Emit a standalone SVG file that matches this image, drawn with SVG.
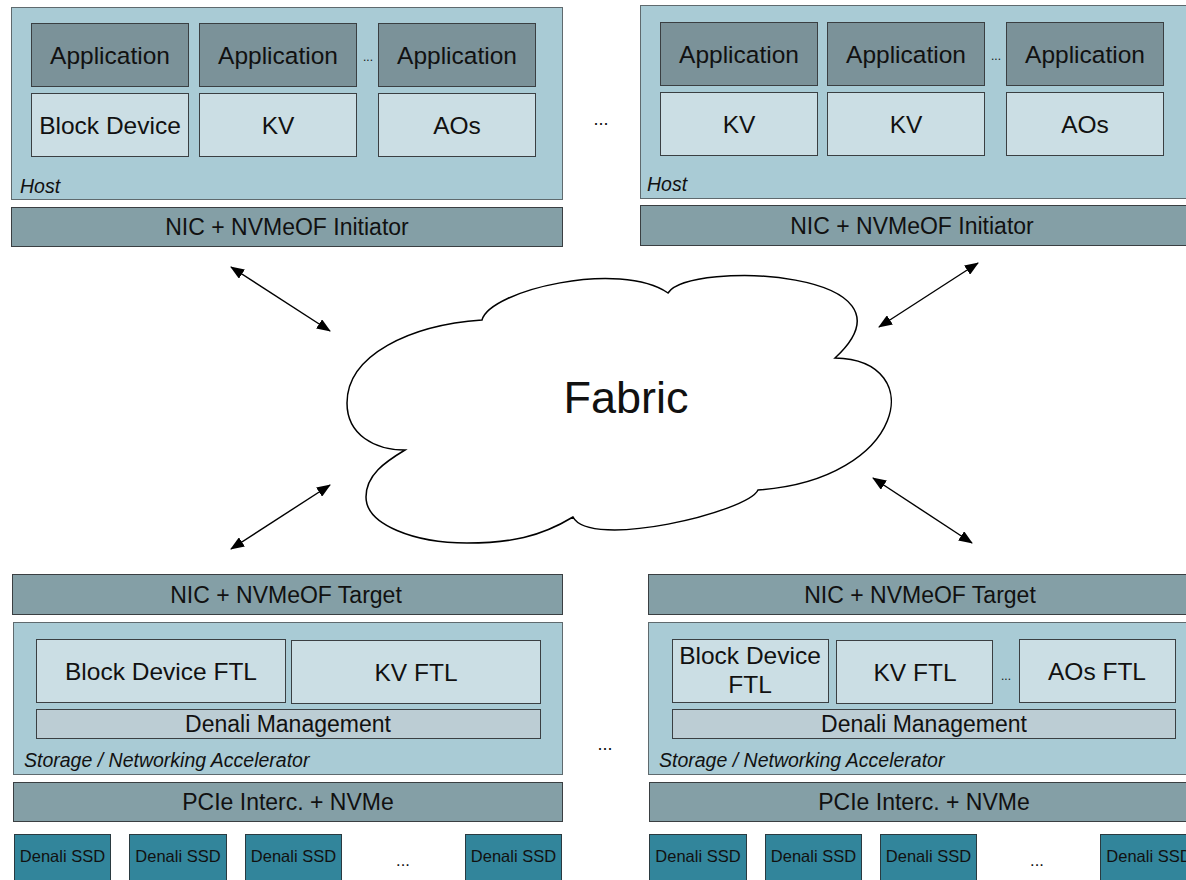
<svg xmlns="http://www.w3.org/2000/svg" width="1186" height="880" viewBox="0 0 1186 880">
<defs>
<style>
text{font-family:"Liberation Sans",Arial,Helvetica,sans-serif;fill:#111;text-anchor:middle}
.host{fill:#a9cbd5;stroke:#5f6a6e;stroke-width:1}
.app{fill:#7b9299;stroke:#3a3f42;stroke-width:1}
.lite{fill:#cbdee4;stroke:#3a3f42;stroke-width:1}
.bar{fill:#849fa6;stroke:#3a3f42;stroke-width:1}
.mgmt{fill:#bccdd4;stroke:#3a3f42;stroke-width:1}
.ssd{fill:#32859b;stroke:#2a3a40;stroke-width:1}
.t25{font-size:24.5px}
.t23{font-size:23px}
.lbl{font-size:19.5px;font-style:italic;text-anchor:start}
.ssdt{font-size:16.5px}
.dots{font-size:12px}
.dots2{font-size:18px}
.conn{stroke:#000;stroke-width:1.4;fill:none;marker-start:url(#ah);marker-end:url(#ah)}
</style>
<marker id="ah" viewBox="0 0 14 11" refX="13" refY="5.5" markerWidth="14" markerHeight="11" markerUnits="userSpaceOnUse" orient="auto-start-reverse">
<path d="M0,0 L14,5.5 L0,11 Z" fill="#000"/>
</marker>
</defs>

<g id="host-left">
<rect class="host" x="11.5" y="7.5" width="551" height="192"/>
<rect class="app" x="31.5" y="23.5" width="157" height="63"/>
<text class="t25" x="110" y="64">Application</text>
<rect class="app" x="199.5" y="23.5" width="157" height="63"/>
<text class="t25" x="278" y="64">Application</text>
<text class="dots" x="368" y="61">...</text>
<rect class="app" x="378.5" y="23.5" width="157" height="63"/>
<text class="t25" x="457" y="64">Application</text>
<rect class="lite" x="31.5" y="93.5" width="157" height="63"/>
<text class="t25" x="110" y="134">Block Device</text>
<rect class="lite" x="199.5" y="93.5" width="157" height="63"/>
<text class="t25" x="278" y="134">KV</text>
<rect class="lite" x="378.5" y="93.5" width="157" height="63"/>
<text class="t25" x="457" y="134">AOs</text>
<text class="lbl" x="20" y="193">Host</text>
</g>
<g id="nic-init-left">
<rect class="bar" x="11.5" y="207.5" width="551" height="39"/>
<text class="t23" x="287" y="235">NIC + NVMeOF Initiator</text>
</g>

<text class="dots2" x="601" y="125">...</text>

<g id="host-right">
<rect class="host" x="640.5" y="5.5" width="560" height="193"/>
<rect class="app" x="660.5" y="22.5" width="157" height="63"/>
<text class="t25" x="739" y="63">Application</text>
<rect class="app" x="827.5" y="22.5" width="157" height="63"/>
<text class="t25" x="906" y="63">Application</text>
<text class="dots" x="996" y="60">...</text>
<rect class="app" x="1006.5" y="22.5" width="157" height="63"/>
<text class="t25" x="1085" y="63">Application</text>
<rect class="lite" x="660.5" y="92.5" width="157" height="63"/>
<text class="t25" x="739" y="133">KV</text>
<rect class="lite" x="827.5" y="92.5" width="157" height="63"/>
<text class="t25" x="906" y="133">KV</text>
<rect class="lite" x="1006.5" y="92.5" width="157" height="63"/>
<text class="t25" x="1085" y="133">AOs</text>
<text class="lbl" x="647" y="191">Host</text>
</g>
<g id="nic-init-right">
<rect class="bar" x="640.5" y="205.5" width="560" height="40"/>
<text class="t23" x="912" y="233.5">NIC + NVMeOF Initiator</text>
</g>

<g id="fabric">
<path d="M405,450 C375,450 347,435 347,403 C347,355 410,325 482,320 C490,290 620,260 668,293 C690,260 930,270 835,358 C930,360 905,480 758,490 C748,512 590,550 573,517 C540,537 510,543 467,543 C415,543 366,525 366,497 C366,475 385,462 405,450 Z" fill="#fff" stroke="#000" stroke-width="1.5" stroke-linejoin="miter"/>
<text x="626" y="413" style="font-size:45px">Fabric</text>
</g>

<g id="connectors">
<line class="conn" x1="231" y1="267" x2="330" y2="331"/>
<line class="conn" x1="330" y1="485" x2="231" y2="549"/>
<line class="conn" x1="978" y1="263" x2="879" y2="327"/>
<line class="conn" x1="873" y1="478" x2="972" y2="543"/>
</g>

<g id="nic-target-left">
<rect class="bar" x="12.5" y="574.5" width="550" height="40"/>
<text class="t23" x="286" y="602.5">NIC + NVMeOF Target</text>
</g>
<g id="accel-left">
<rect class="host" x="13.5" y="622.5" width="549" height="152"/>
<rect class="lite" x="36.5" y="639.5" width="249" height="63"/>
<text class="t25" x="161" y="680">Block Device FTL</text>
<rect class="lite" x="291.5" y="640.5" width="249" height="63"/>
<text class="t25" x="416" y="681">KV FTL</text>
<rect class="mgmt" x="36.5" y="709.5" width="504" height="29"/>
<text class="t23" x="288" y="732">Denali Management</text>
<text class="lbl" x="24" y="767">Storage / Networking Accelerator</text>
</g>
<g id="pcie-left">
<rect class="bar" x="13.5" y="782.5" width="549" height="39"/>
<text class="t23" x="288" y="810">PCIe Interc. + NVMe</text>
</g>
<g id="ssd-left">
<rect class="ssd" x="14.5" y="834.5" width="96" height="60"/>
<text class="ssdt" x="62.5" y="862">Denali SSD</text>
<rect class="ssd" x="129.5" y="834.5" width="97" height="60"/>
<text class="ssdt" x="178" y="862">Denali SSD</text>
<rect class="ssd" x="245.5" y="834.5" width="96" height="60"/>
<text class="ssdt" x="293.5" y="862">Denali SSD</text>
<text class="ssdt" x="403" y="866">...</text>
<rect class="ssd" x="465.5" y="834.5" width="96" height="60"/>
<text class="ssdt" x="513.5" y="862">Denali SSD</text>
</g>

<text class="dots2" x="605" y="750">...</text>

<g id="nic-target-right">
<rect class="bar" x="648.5" y="574.5" width="560" height="40"/>
<text class="t23" x="920" y="602.5">NIC + NVMeOF Target</text>
</g>
<g id="accel-right">
<rect class="host" x="648.5" y="622.5" width="560" height="152"/>
<rect class="lite" x="672.5" y="639.5" width="156" height="63"/>
<text class="t25" x="750" y="664">Block Device</text>
<text class="t25" x="750" y="693">FTL</text>
<rect class="lite" x="836.5" y="640.5" width="156" height="63"/>
<text class="t25" x="915" y="681">KV FTL</text>
<text class="dots" x="1006" y="680">...</text>
<rect class="lite" x="1019.5" y="639.5" width="156" height="63"/>
<text class="t25" x="1097" y="680">AOs FTL</text>
<rect class="mgmt" x="672.5" y="709.5" width="503" height="29"/>
<text class="t23" x="924" y="732">Denali Management</text>
<text class="lbl" x="659" y="767">Storage / Networking Accelerator</text>
</g>
<g id="pcie-right">
<rect class="bar" x="649.5" y="782.5" width="560" height="39"/>
<text class="t23" x="924" y="810">PCIe Interc. + NVMe</text>
</g>
<g id="ssd-right">
<rect class="ssd" x="649.5" y="834.5" width="97" height="60"/>
<text class="ssdt" x="698" y="862">Denali SSD</text>
<rect class="ssd" x="765.5" y="834.5" width="96" height="60"/>
<text class="ssdt" x="813.5" y="862">Denali SSD</text>
<rect class="ssd" x="880.5" y="834.5" width="96" height="60"/>
<text class="ssdt" x="928.5" y="862">Denali SSD</text>
<text class="ssdt" x="1037" y="866">...</text>
<rect class="ssd" x="1100.5" y="834.5" width="97" height="60"/>
<text class="ssdt" x="1149" y="862">Denali SSD</text>
</g>
</svg>
